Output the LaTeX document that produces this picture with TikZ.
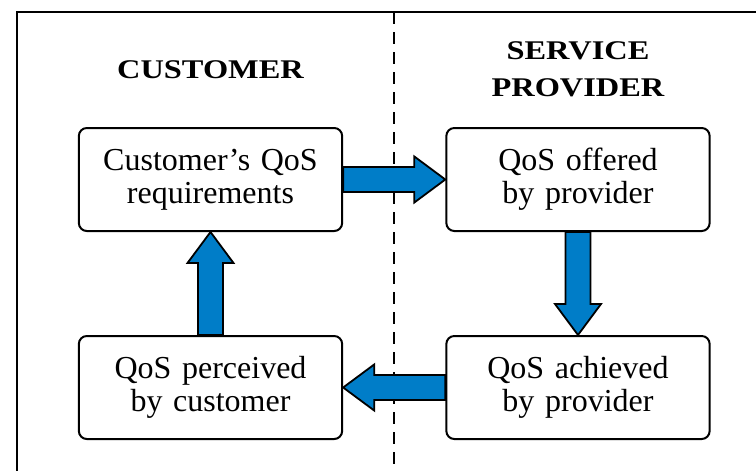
\documentclass[tikz,border=0pt]{standalone}
\usepackage{fontspec}
\setmainfont{Liberation Serif}
\newfontfamily\headfont[FakeStretch=1.2]{Liberation Serif}
\usepackage{tikz}
\usetikzlibrary{calc}
\definecolor{qosblue}{RGB}{0,125,200}
\tikzstyle{box} = [rectangle, draw, rounded corners = 4pt, line width = 1pt, fill = white, minimum width = 131.5pt, minimum height = 51.5pt, text width = 125pt, align = center, font = \fontsize{16}{16.5}\selectfont]
\tikzstyle{head} = [align = center, font = \headfont\bfseries\fontsize{13.5}{18.5}\selectfont]
\tikzstyle{frame} = [line width = 1.2pt]
\tikzstyle{divider} = [line width = 1pt, dash pattern = on 6pt off 4pt]
\tikzstyle{fat} = [draw, line width = 0.9pt, fill = qosblue, line join = miter,
  to path = {let \p1 = (\tikztostart), \p2 = (\tikztotarget),
    \n1 = {atan2(\y2-\y1,\x2-\x1)}, \n2 = {veclen(\x2-\x1,\y2-\y1)}, \n3 = {\n2-15.5pt} in
    -- ([shift={(\p1)}, rotate=\n1]0pt,6.25pt) -- ([shift={(\p1)}, rotate=\n1]\n3,6.25pt)
    -- ([shift={(\p1)}, rotate=\n1]\n3,11.5pt) -- (\tikztotarget)
    -- ([shift={(\p1)}, rotate=\n1]\n3,-11.5pt) -- ([shift={(\p1)}, rotate=\n1]\n3,-6.25pt)
    -- ([shift={(\p1)}, rotate=\n1]0pt,-6.25pt) -- cycle}]

\begin{document}
\begin{tikzpicture}[x = 0.5pt, y = -0.5pt]
        \useasboundingbox (0,0) rectangle (756,471);
        \clip (0,0) rectangle (756,471);
        \coordinate (ftl) at (17,12);
        \draw[frame] (ftl) rectangle (780,500);
        \node (req) [box] at (210.5,179.5) {Customer's QoS\\requirements};
        \node (off) [box, right of = req, node distance = 183.75pt] {QoS offered\\by provider};
        \node (ach) [box, below of = off, node distance = 104pt] {QoS achieved\\by provider};
        \node (per) [box, left of = ach, node distance = 183.75pt] {QoS perceived\\by customer};
        \node (cust) [head, above of = req, node distance = 55pt] {CUSTOMER};
        \node (prov) [head, above of = off, node distance = 55pt] {SERVICE\\PROVIDER};
        \coordinate (mid) at ($(req.east)!0.5!(off.west)$);
        \draw[divider] (mid |- ftl) -- (mid |- 0,480);
        \draw[fat] (req.east) to (off.west);
        \draw[fat] (off.south) to (ach.north);
        \draw[fat] (ach.west) to (per.east);
        \draw[fat] (per.north) to (req.south);
\end{tikzpicture}
\end{document}
